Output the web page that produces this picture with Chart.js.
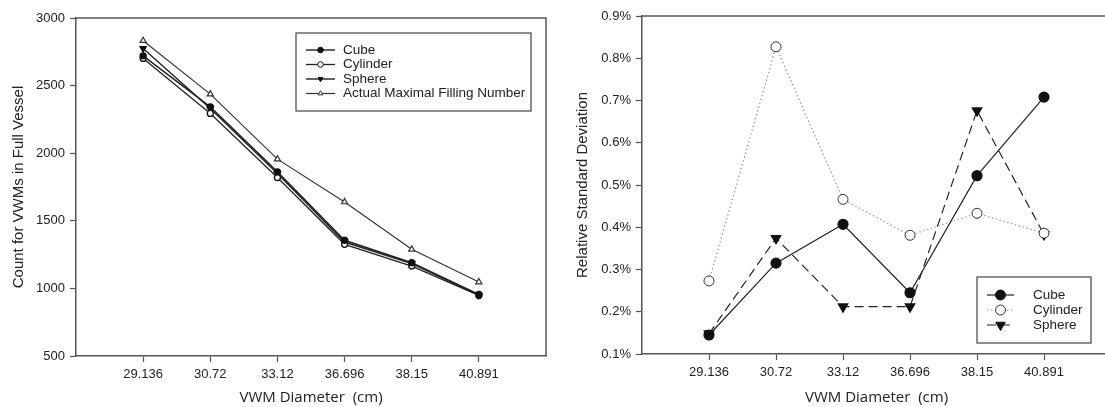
<!DOCTYPE html>
<html>
<head>
<meta charset="utf-8">
<script src="https://cdn.jsdelivr.net/npm/chart.js@4"></script>
<style>
body{margin:0;background:#fff;width:1105px;height:407px;overflow:hidden;position:relative}
#left{position:absolute;left:0;top:0}
#right{position:absolute;left:560px;top:0}
</style>
</head>
<body>
<canvas id="left" width="560" height="407"></canvas>
<canvas id="right" width="560" height="407"></canvas>
<script>
// x categories (VWM diameter, cm)
var diameters = ['29.136', '30.72', '33.12', '36.696', '38.15', '40.891'];

// left: count for VWMs in full vessel
var countCube     = [2720, 2343, 1862, 1356, 1190, 955];
var countCylinder = [2701, 2294, 1820, 1326, 1165, 948];
var countSphere   = [2775, 2331, 1849, 1343, 1183, 950];
var countActual   = [2832, 2437, 1956, 1639, 1289, 1047];

// right: relative standard deviation (%)
var rsdCube     = [0.145, 0.315, 0.407, 0.245, 0.522, 0.708];
var rsdCylinder = [0.273, 0.827, 0.466, 0.381, 0.433, 0.386];
var rsdSphere   = [0.148, 0.374, 0.212, 0.212, 0.676, 0.383];

function pts(arr){
    return arr.map(function(v, i){ return {x: i, y: v}; });
}

var tickFont = {family: 'Liberation Sans, Arial', size: 13};
var axisCol = '#555';

// top + right border of the plot box
var frame = {
    id: 'frame',
    beforeDatasetsDraw: function(chart){
        var a = chart.chartArea, ctx = chart.ctx;
        ctx.save();
        ctx.strokeStyle = axisCol;
        ctx.lineWidth = 1.5;
        ctx.beginPath();
        ctx.moveTo(a.left, a.top);
        ctx.lineTo(a.right, a.top);
        ctx.lineTo(a.right, a.bottom);
        ctx.stroke();
        ctx.restore();
    }
};

// boxed legend placed inside the plot like the original
var boxLegend = {
    id: 'boxLegend',
    afterDatasetsDraw: function(chart, args, o){
        var ctx = chart.ctx;
        ctx.save();
        ctx.fillStyle = '#fff';
        ctx.fillRect(o.x, o.y, o.w, o.h);
        ctx.strokeStyle = '#444';
        ctx.lineWidth = 1.2;
        ctx.strokeRect(o.x, o.y, o.w, o.h);
        chart.data.datasets.forEach(function(ds, i){
            var y = o.y + o.first + i * o.step;
            ctx.strokeStyle = ds.borderColor;
            ctx.lineWidth = ds.borderWidth;
            ctx.setLineDash(ds.borderDash || []);
            ctx.beginPath();
            ctx.moveTo(o.x + o.lx0, y);
            ctx.lineTo(o.x + o.lx1, y);
            ctx.stroke();
            ctx.setLineDash([]);
            ctx.fillStyle = ds.pointBackgroundColor;
            ctx.strokeStyle = ds.pointBorderColor;
            ctx.lineWidth = 1;
            Chart.helpers.drawPoint(ctx, {
                pointStyle: ds.pointStyle,
                radius: o.r || ds.pointRadius,
                rotation: ds.pointRotation || 0,
                borderWidth: 1
            }, o.x + (o.lx0 + o.lx1) / 2, y);
            ctx.fillStyle = '#222';
            ctx.font = o.font;
            ctx.textBaseline = 'middle';
            ctx.fillText(ds.label, o.x + o.tx, y);
        });
        ctx.restore();
    }
};

function xAxis(h){
    return {
        type: 'linear', min: -1, max: 6,
        afterBuildTicks: function(s){
            s.ticks = s.ticks.filter(function(t){ return t.value >= 0 && t.value <= 5; });
        },
        afterFit: function(s){ s.height = h; },
        ticks: {
            stepSize: 1, autoSkip: false, maxRotation: 0, padding: 5,
            color: '#222', font: tickFont,
            callback: function(v){ return diameters[v]; }
        },
        grid: {drawOnChartArea: false, tickLength: 6, color: axisCol, tickWidth: 1.2},
        border: {color: axisCol, width: 1.5},
        title: {display: true, text: 'VWM Diameter  (cm)', color: '#222',
                font: {family: 'Open Sans', size: 15}, padding: {top: 0, bottom: 0}}
    };
}

function yAxis(w, title, tpad, extra){
    var y = {
        afterFit: function(s){ s.width = w; },
        ticks: {padding: 5, color: '#222', font: tickFont},
        grid: {drawOnChartArea: false, tickLength: 6, color: axisCol, tickWidth: 1.2},
        border: {color: axisCol, width: 1.5},
        title: {display: true, text: title, color: '#222',
                font: {family: 'Liberation Sans, Arial', size: 15}, padding: {top: tpad, bottom: 0}}
    };
    for (var k in extra) {
        if (k === 'ticks') Object.assign(y.ticks, extra.ticks);
        else y[k] = extra[k];
    }
    return y;
}

var line = '#222';

new Chart(document.getElementById('left'), {
    type: 'line',
    data: {
        datasets: [
            {label: 'Cube', data: pts(countCube), borderColor: line, borderWidth: 1.4,
             pointStyle: 'circle', pointRadius: 3, pointBackgroundColor: '#111', pointBorderColor: '#111'},
            {label: 'Cylinder', data: pts(countCylinder), borderColor: line, borderWidth: 1.3,
             pointStyle: 'circle', pointRadius: 3, pointBackgroundColor: '#fff', pointBorderColor: '#111'},
            {label: 'Sphere', data: pts(countSphere), borderColor: line, borderWidth: 1.4,
             pointStyle: 'triangle', pointRotation: 180, pointRadius: 3.5, pointBackgroundColor: '#111', pointBorderColor: '#111'},
            {label: 'Actual Maximal Filling Number', data: pts(countActual), borderColor: '#333', borderWidth: 1.2,
             pointStyle: 'triangle', pointRadius: 3.5, pointBackgroundColor: '#fff', pointBorderColor: '#333'}
        ]
    },
    options: {
        responsive: false, animation: false,
        layout: {padding: {left: 4, right: 14, top: 18, bottom: 0}},
        scales: {
            x: xAxis(51),
            y: yAxis(72, 'Count for VWMs in Full Vessel', 6, {min: 500, max: 3000,
                ticks: {stepSize: 500, callback: function(v){ return String(v); }}})
        },
        plugins: {
            legend: {display: false},
            tooltip: {enabled: false},
            boxLegend: {x: 296, y: 33, w: 235, h: 78, first: 17, step: 14.5, lx0: 10, lx1: 39, tx: 47, r: 2.8,
                        font: '13.5px "Liberation Sans", Arial'}
        }
    },
    plugins: [frame, boxLegend]
});

new Chart(document.getElementById('right'), {
    type: 'line',
    data: {
        datasets: [
            {label: 'Cube', data: pts(rsdCube), borderColor: line, borderWidth: 1.2,
             pointStyle: 'circle', pointRadius: 5, pointBackgroundColor: '#111', pointBorderColor: '#111'},
            {label: 'Cylinder', data: pts(rsdCylinder), borderColor: '#999', borderWidth: 1.2, borderDash: [1.5, 2.5],
             pointStyle: 'circle', pointRadius: 5, pointBackgroundColor: '#fff', pointBorderColor: '#333', pointBorderWidth: 1},
            {label: 'Sphere', data: pts(rsdSphere), borderColor: line, borderWidth: 1.2, borderDash: [9, 5],
             pointStyle: 'triangle', pointRotation: 180, pointRadius: 5.5, pointBackgroundColor: '#111', pointBorderColor: '#111'}
        ]
    },
    options: {
        responsive: false, animation: false,
        layout: {padding: {left: 4, right: 9, top: 16, bottom: 0}},
        scales: {
            x: xAxis(53),
            y: yAxis(78, 'Relative Standard Deviation', 10, {min: 0.1, max: 0.9,
                ticks: {stepSize: 0.1, callback: function(v){ return v.toFixed(1) + '%'; }}})
        },
        plugins: {
            legend: {display: false},
            tooltip: {enabled: false},
            boxLegend: {x: 417, y: 277, w: 114, h: 66, first: 18, step: 15, lx0: 10, lx1: 37, tx: 56,
                        font: '13.5px "Liberation Sans", Arial'}
        }
    },
    plugins: [frame, boxLegend]
});
</script>
</body>
</html>
